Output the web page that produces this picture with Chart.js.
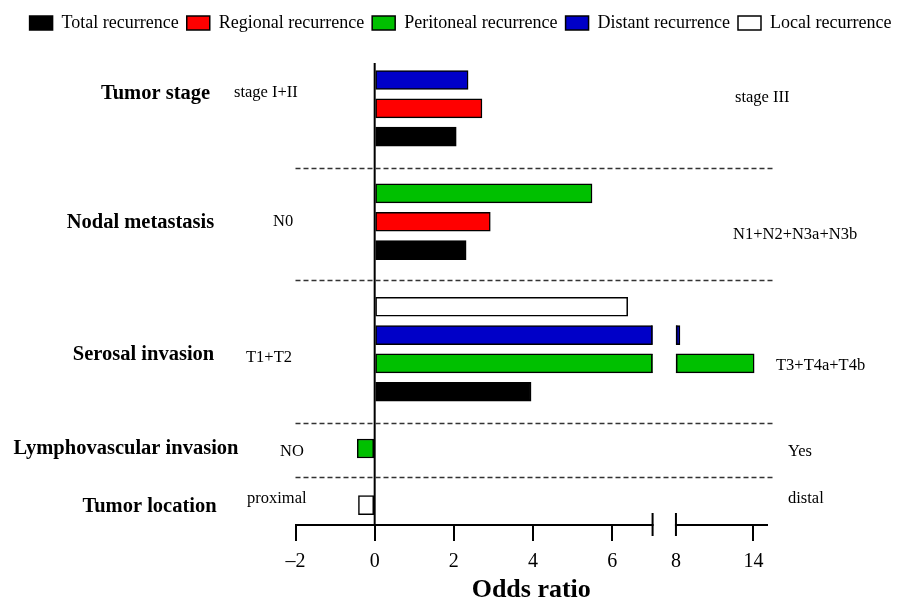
<!DOCTYPE html>
<html>
<head>
<meta charset="utf-8">
<script src="https://cdn.jsdelivr.net/npm/chart.js@4.4.1/dist/chart.umd.min.js"></script>
<style>
  html, body { margin: 0; padding: 0; background: #ffffff; }
  #wrap { width: 903px; height: 602px; }
</style>
</head>
<body>
<div id="wrap"><canvas id="c" width="903" height="602"></canvas></div>
<script>
// ---------------- DATA ----------------
// one slot per bar row (empty slots separate the groups)
const categories = [
  'Tumor stage: Distant', 'Tumor stage: Regional', 'Tumor stage: Total', '',
  'Nodal metastasis: Peritoneal', 'Nodal metastasis: Regional', 'Nodal metastasis: Total', '',
  'Serosal invasion: Local', 'Serosal invasion: Distant', 'Serosal invasion: Peritoneal', 'Serosal invasion: Total', '',
  'Lymphovascular invasion: Peritoneal', '',
  'Tumor location: Local'
];
const seriesNames = ['Total recurrence', 'Regional recurrence', 'Peritoneal recurrence', 'Distant recurrence', 'Local recurrence'];
const totalRecurrence      = [null, null, 2.06, null, null, null, 2.31, null, null, null, null, 3.95, null, null, null, null];
const regionalRecurrence   = [null, 2.71, null, null, null, 2.92, null, null, null, null, null, null, null, null, null, null];
const peritonealRecurrence = [null, null, null, null, 5.49, null, null, null, null, null, 14.06, null, null, -0.44, null, null];
const distantRecurrence    = [2.36, null, null, null, null, null, null, null, null, 8.31, null, null, null, null, null, null];
const localRecurrence      = [null, null, null, null, null, null, null, null, 6.39, null, null, null, null, null, null, -0.41];
const tickValues = [-2, 0, 2, 4, 6, 8, 14];
const groupNames  = ['Tumor stage', 'Nodal metastasis', 'Serosal invasion', 'Lymphovascular invasion', 'Tumor location'];
const leftLabels  = ['stage I+II', 'N0', 'T1+T2', 'NO', 'proximal'];
const rightLabels = ['stage III', 'N1+N2+N3a+N3b', 'T3+T4a+T4b', 'Yes', 'distal'];
const separatorSlots = [3.1, 7.05, 12.1, 14];

// ---------------- LAYOUT / STYLE ----------------
const FONT = "'Liberation Serif', 'Times New Roman', serif";
const seriesColors = ['#000000', '#ff0000', '#00c000', '#0000c8', '#ffffff'];
const groupPos = [[155.5, 94], [140.5, 223], [143.5, 355], [126, 449], [149.5, 507]];
const leftPos  = [[234, 93], [273, 222], [246, 358], [280, 452], [247, 499]];
const rightPos = [[735, 98], [733, 235], [776, 366], [788, 452], [788, 499]];
// broken axis: values up to BREAK_LO drawn linearly, then gap, then compressed from 8 on
const BREAK_LO = 7.02, DISP_8 = 7.61, K_RIGHT = 0.326;
function toDisplay(v) { return v <= BREAK_LO ? v : DISP_8 + (v - 8) * K_RIGHT; }
function fromDisplay(d) { return d <= BREAK_LO ? d : 8 + (d - DISP_8) / K_RIGHT; }

class BrokenLinearScale extends Chart.LinearScale {
  getPixelForValue(value) {
    return super.getPixelForValue(value === null || value === undefined ? value : toDisplay(value));
  }
  getValueForPixel(pixel) { return fromDisplay(super.getValueForPixel(pixel)); }
}
BrokenLinearScale.id = 'brokenLinear';
BrokenLinearScale.defaults = Chart.LinearScale.defaults;
Chart.register(BrokenLinearScale);

const seriesValues = [totalRecurrence, regionalRecurrence, peritonealRecurrence, distantRecurrence, localRecurrence];
const datasets = seriesNames.map((name, k) => ({
  label: name,
  data: seriesValues[k].map((v, i) => v === null ? null : { x: v, y: i }).filter(p => p !== null),
  backgroundColor: seriesColors[k],
  borderColor: '#000000',
  borderWidth: 1.5,
  borderSkipped: false,
  barThickness: 19,
  yAxisID: 'y',
  xAxisID: 'x'
}));

const decorPlugin = {
  id: 'decor',
  afterInit(chart) {
    const lg = chart.legend;
    const orig = lg.fit;
    lg.fit = function () { orig.call(this); this.height += 21; };
  },
  afterDatasetsDraw(chart) {
    const ctx = chart.ctx, xs = chart.scales.x, ys = chart.scales.y, ca = chart.chartArea;
    const gL = xs.getPixelForValue(BREAK_LO), gR = xs.getPixelForValue(8);
    ctx.save();
    // cut bars crossing the break
    chart.data.datasets.forEach((ds, di) => {
      const meta = chart.getDatasetMeta(di);
      meta.data.forEach((el, j) => {
        if (ds.data[j].x > BREAK_LO) {
          const h = el.height;
          ctx.fillStyle = '#ffffff';
          ctx.fillRect(gL, el.y - h / 2 - 1, gR - gL, h + 2);
          ctx.strokeStyle = '#000000';
          ctx.lineWidth = 1.5;
          ctx.beginPath();
          ctx.moveTo(gL - 0.75, el.y - h / 2); ctx.lineTo(gL - 0.75, el.y + h / 2);
          ctx.moveTo(gR + 0.75, el.y - h / 2); ctx.lineTo(gR + 0.75, el.y + h / 2);
          ctx.stroke();
        }
      });
    });
    // zero line
    const x0 = xs.getPixelForValue(0);
    ctx.strokeStyle = '#000000';
    ctx.lineWidth = 2;
    ctx.beginPath();
    ctx.moveTo(x0, ca.top); ctx.lineTo(x0, ca.bottom);
    ctx.stroke();
    // group separators
    ctx.strokeStyle = '#333333';
    ctx.lineWidth = 1.4;
    ctx.setLineDash([5, 3]);
    separatorSlots.forEach(s => {
      const y = Math.round(ys.getPixelForValue(s)) + 0.5;
      ctx.beginPath();
      ctx.moveTo(ca.left, y); ctx.lineTo(ca.right + 6, y);
      ctx.stroke();
    });
    ctx.restore();
  },
  afterDraw(chart) {
    const ctx = chart.ctx, xs = chart.scales.x, ca = chart.chartArea;
    const gL = xs.getPixelForValue(BREAK_LO), gR = xs.getPixelForValue(8);
    const y0 = ca.bottom;
    ctx.save();
    ctx.fillStyle = '#ffffff';
    ctx.fillRect(gL + 1, y0 - 3, gR - gL - 2, 6);
    ctx.strokeStyle = '#000000';
    ctx.lineWidth = 2;
    ctx.beginPath();
    ctx.moveTo(gL, y0 - 12); ctx.lineTo(gL, y0 + 11);
    ctx.moveTo(gR, y0 - 12); ctx.lineTo(gR, y0 + 11);
    ctx.stroke();
    // text annotations
    ctx.fillStyle = '#000000';
    ctx.textBaseline = 'middle';
    ctx.font = 'bold 20.5px ' + FONT;
    ctx.textAlign = 'center';
    groupNames.forEach((t, i) => ctx.fillText(t, groupPos[i][0], groupPos[i][1]));
    ctx.font = '16.5px ' + FONT;
    ctx.textAlign = 'left';
    leftLabels.forEach((t, i) => ctx.fillText(t, leftPos[i][0], leftPos[i][1]));
    rightLabels.forEach((t, i) => ctx.fillText(t, rightPos[i][0], rightPos[i][1]));
    ctx.restore();
  }
};

new Chart(document.getElementById('c'), {
  type: 'bar',
  data: { labels: categories, datasets },
  options: {
    indexAxis: 'y',
    responsive: false,
    animation: false,
    devicePixelRatio: 1,
    layout: { padding: { top: 6, bottom: 0, left: 18, right: 0 } },
    plugins: {
      legend: {
        position: 'top',
        labels: {
          font: { family: FONT, size: 18 },
          color: '#000000',
          boxWidth: 23,
          boxHeight: 14,
          padding: 8
        }
      },
      tooltip: { enabled: false }
    },
    scales: {
      y: {
        type: 'linear',
        position: 'left',
        reverse: true,
        min: -0.6,
        max: 15.7,
        offset: false,
        bounds: 'data',
        stacked: true,
        display: true,
        ticks: { display: false },
        grid: { display: false, offset: false },
        border: { display: false },
        afterFit(s) { s.width = 277.5; }
      },
      yR: {
        type: 'linear',
        position: 'right',
        display: true,
        ticks: { display: false },
        grid: { display: false },
        border: { display: false },
        afterFit(s) { s.width = 136; }
      },
      x: {
        type: 'brokenLinear',
        position: 'bottom',
        min: -2,
        max: 9.91,
        bounds: 'data',
        offset: false,
        afterBuildTicks(s) { s.ticks = tickValues.map(v => ({ value: v })); },
        afterFit(s) { s.height = 77; },
        ticks: {
          autoSkip: false,
          maxRotation: 0,
          padding: 9,
          color: '#000000',
          font: { family: FONT, size: 20 },
          callback: v => (v < 0 ? '\u2013' + Math.abs(v) : String(v))
        },
        grid: {
          display: true,
          drawOnChartArea: false,
          drawTicks: true,
          tickLength: 16,
          lineWidth: 2,
          color: '#000000',
          tickColor: ctx => (ctx.tick && ctx.tick.value === 8 ? 'rgba(0,0,0,0)' : '#000000')
        },
        border: { display: true, color: '#000000', width: 2 },
        title: {
          display: true,
          text: 'Odds ratio',
          color: '#000000',
          font: { family: FONT, size: 26, weight: 'bold', lineHeight: 0.9 },
          padding: { top: 0, bottom: 0 }
        }
      }
    }
  },
  plugins: [decorPlugin]
});
</script>
</body>
</html>
